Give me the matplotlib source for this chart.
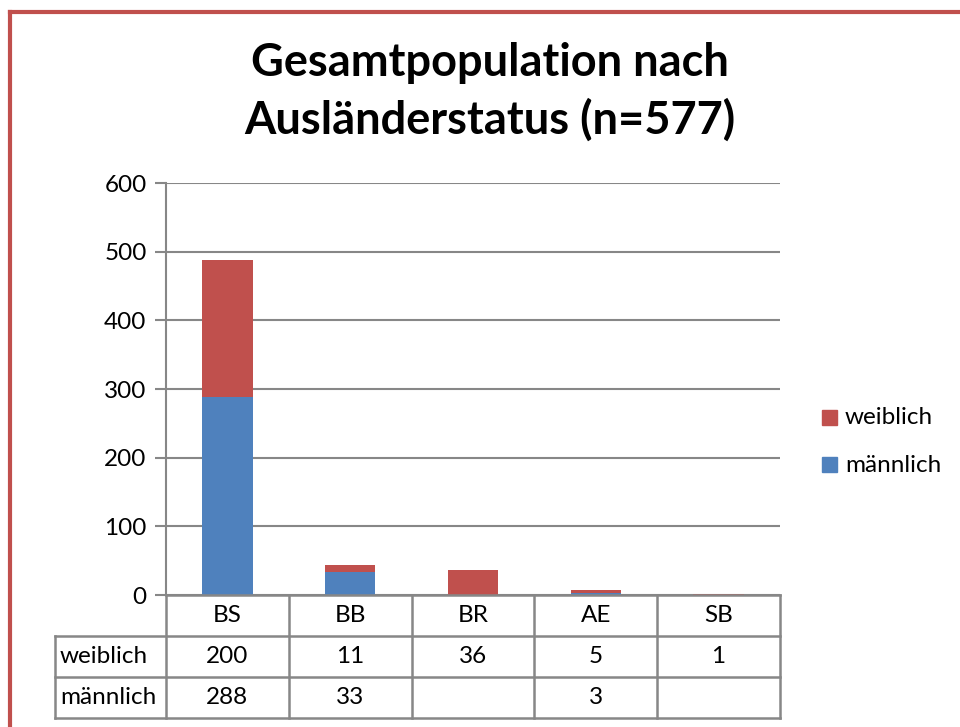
import matplotlib.pyplot as plt
from matplotlib.lines import Line2D
from matplotlib.patches import Rectangle

# ---------------- Daten ---------------- #
kategorien = ['BS', 'BB', 'BR', 'AE', 'SB']
weiblich = [200, 11, 36, 5, 1]
maennlich = [288, 33, None, 3, None]
yticks = [0, 100, 200, 300, 400, 500, 600]
titel = 'Gesamtpopulation nach\nAusländerstatus (n=577)'

rot = '#C0504D'
blau = '#4F81BD'
grau = '#878787'
schrift = 'Lato'

plt.rcParams['font.family'] = [schrift, 'DejaVu Sans']

fig = plt.figure(figsize=(9.6, 7.27), dpi=100)
W, H = 960, 727


def fx(px):
    return px / W


def fy(py):
    return 1 - py / H


ax = fig.add_axes([fx(166), fy(595), fx(780) - fx(166), fy(183) - fy(595)])

x = list(range(len(kategorien)))
m_vals = [v if v is not None else 0 for v in maennlich]
ax.bar(x, m_vals, width=0.41, color=blau, zorder=3)
ax.bar(x, weiblich, width=0.41, bottom=m_vals, color=rot, zorder=3)

ax.set_xlim(-0.5, len(kategorien) - 0.5)
ax.set_ylim(0, 600)
ax.set_yticks(yticks)
ax.set_yticklabels([str(t) for t in yticks], fontsize=17.5)
ax.tick_params(axis='y', length=8, width=1.5, color=grau, pad=6)
ax.set_xticks([])
for s in ['top', 'right', 'bottom']:
    ax.spines[s].set_visible(False)
ax.spines['left'].set_color(grau)
ax.spines['left'].set_linewidth(1.5)
ax.spines['left'].set_zorder(5)
ax.grid(axis='y', color=grau, linewidth=1.5, zorder=0)

# ---------------- Datentabelle ---------------- #
row_h = 41 / 412  # Zeilenhöhe in Achsenkoordinaten
links_label = (55 - 166) / (780 - 166) * len(kategorien) - 0.5
tr = ax.get_xaxis_transform()
lkw = dict(color=grau, linewidth=1.8, transform=tr, clip_on=False, zorder=5)

# horizontale Linien
ax.plot([-0.5, 4.5], [0, 0], **lkw)
for i in (1, 2, 3):
    ax.plot([links_label, 4.5], [-i * row_h, -i * row_h], **lkw)
# vertikale Linien
for k in range(len(kategorien) + 1):
    ax.plot([k - 0.5, k - 0.5], [0, -3 * row_h], **lkw)
ax.plot([links_label, links_label], [-row_h, -3 * row_h], **lkw)

for i, kat in enumerate(kategorien):
    ax.text(i, -0.5 * row_h, kat, ha='center', va='center', fontsize=17.5,
            transform=tr)
    ax.text(i, -1.5 * row_h, str(weiblich[i]), ha='center', va='center',
            fontsize=17.5, transform=tr)
    if maennlich[i] is not None:
        ax.text(i, -2.5 * row_h, str(maennlich[i]), ha='center', va='center',
                fontsize=17.5, transform=tr)
ax.text(links_label + 0.04, -1.5 * row_h, 'weiblich', ha='left', va='center',
        fontsize=17.5, transform=tr)
ax.text(links_label + 0.04, -2.5 * row_h, 'männlich', ha='left', va='center',
        fontsize=17.5, transform=tr)

# ---------------- Legende ---------------- #
for label, farbe, py in [('weiblich', rot, 418), ('männlich', blau, 465)]:
    fig.patches.append(Rectangle((fx(822), fy(py + 7)), fx(15), fy(0) - fy(15),
                                 color=farbe, transform=fig.transFigure))
    fig.text(fx(845), fy(py), label, ha='left', va='center', fontsize=17.5)

# ---------------- Titel ---------------- #
fig.text(fx(490), fy(92), titel, ha='center', va='center', fontsize=32.5,
         fontweight='bold', linespacing=1.4)

# ---------------- Rahmen ---------------- #
fig.lines.append(Line2D([fx(10), fx(10)], [0, fy(12)], color=rot, linewidth=3,
                        transform=fig.transFigure))
fig.lines.append(Line2D([fx(10), 1], [fy(12), fy(12)], color=rot, linewidth=3,
                        transform=fig.transFigure))

fig.savefig('out.png', dpi=100)
